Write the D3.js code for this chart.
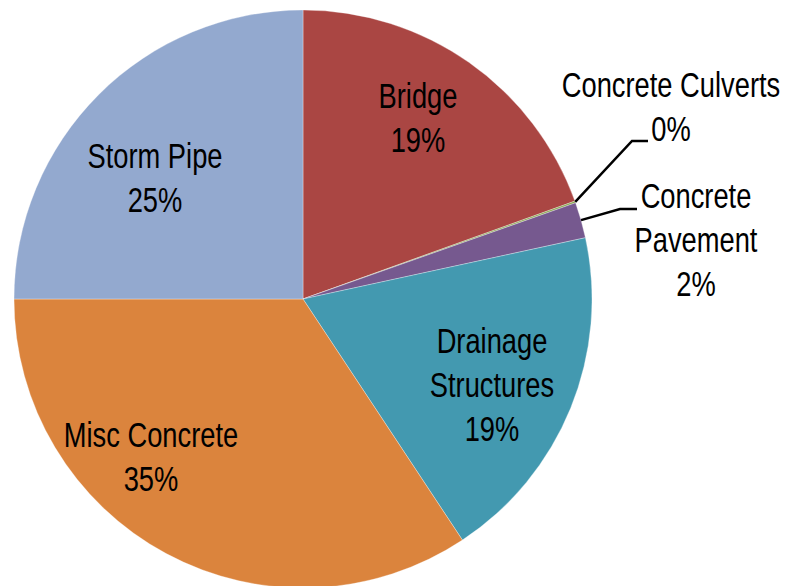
<!DOCTYPE html>
<html>
<head>
<meta charset="utf-8">
<script src="https://cdn.jsdelivr.net/npm/d3@7/dist/d3.min.js"></script>
<style>
  html, body { margin: 0; padding: 0; background: #fff; }
  svg { display: block; }
  text { font-family: "Liberation Sans", Arial, sans-serif; fill: #000; }
</style>
</head>
<body>
<svg id="chart" width="798" height="586"></svg>
<script>
// ---- data ----
const categories = ["Bridge", "Concrete Culverts", "Concrete Pavement", "Drainage Structures", "Misc Concrete", "Storm Pipe"];
const values = [19.5, 0.1, 2.0, 19.1, 34.3, 25.0];
const percentLabels = ["19%", "0%", "2%", "19%", "35%", "25%"];
const colors = ["#AA4643", "#89A54E", "#76598F", "#4399B0", "#DB843D", "#93A9CF"];

// ---- layout (label anchors and wrapping) ----
const cx = 303, cy = 299, radius = 289;
const lineGap = 44;
const fontSize = 35, squeeze = 0.78;
const labelLayout = [
  { x: 418, y: 108, wrap: false, leader: false },
  { x: 671, y: 97,  wrap: false, leader: true, elbow: [632, 141], end: [648, 141] },
  { x: 696, y: 208, wrap: true,  leader: true, elbow: [620, 209], end: [637, 209] },
  { x: 492, y: 353, wrap: true,  leader: false },
  { x: 151, y: 447, wrap: false, leader: false },
  { x: 155, y: 168, wrap: false, leader: false }
];

const data = categories.map((c, i) => ({ name: c, value: values[i], pct: percentLabels[i], color: colors[i], layout: labelLayout[i] }));

const svg = d3.select("#chart");
const g = svg.append("g").attr("transform", `translate(${cx},${cy})`);

const pie = d3.pie().sort(null).value(d => d.value);
const arc = d3.arc().innerRadius(0).outerRadius(radius);
const arcs = pie(data);

g.selectAll("path.slice")
  .data(arcs)
  .enter().append("path")
  .attr("class", "slice")
  .attr("d", arc)
  .attr("fill", d => d.data.color)
  .attr("stroke", "#ffffff")
  .attr("stroke-opacity", 0.45)
  .attr("stroke-width", 0.7);

// leader lines
const edgeArc = d3.arc().innerRadius(radius).outerRadius(radius);
const leaders = svg.append("g");
arcs.filter(d => d.data.layout.leader).forEach(d => {
  const p = edgeArc.centroid(d);
  const L = d.data.layout;
  leaders.append("polyline")
    .attr("points", [[p[0] + cx, p[1] + cy], L.elbow, L.end].map(q => q.join(",")).join(" "))
    .attr("fill", "none")
    .attr("stroke", "#000")
    .attr("stroke-width", 2.5);
});

// labels
const labels = svg.append("g");
arcs.forEach(d => {
  const L = d.data.layout;
  const lines = (L.wrap ? d.data.name.split(" ") : [d.data.name]).concat([d.data.pct]);
  const t = labels.append("text")
    .attr("text-anchor", "middle")
    .attr("font-size", fontSize)
    .attr("transform", `translate(${L.x},${L.y}) scale(${squeeze},1)`);
  lines.forEach((ln, k) => {
    t.append("tspan").attr("x", 0).attr("y", k * lineGap).text(ln);
  });
});
</script>
</body>
</html>
